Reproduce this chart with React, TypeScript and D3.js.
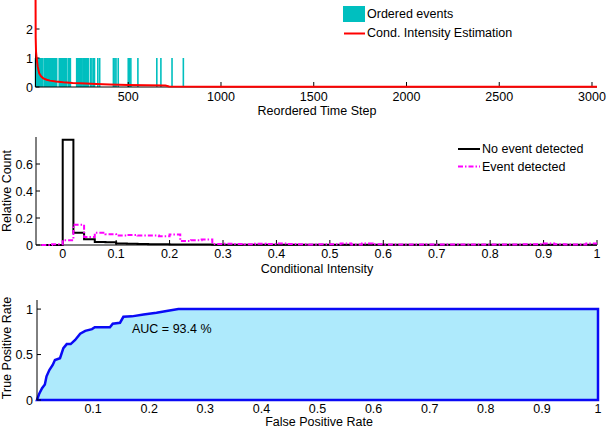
import React from "react";
import * as d3 from "d3";

// ---------- Panel 1 data ----------
const eventTimes = [
  0, 2, 4, 6, 8, 10, 12, 14, 16, 18, 20, 22, 24, 26, 28, 30, 32, 34, 36,
  46, 50, 54, 58, 62, 66, 70, 74, 78, 82, 86, 90, 94, 98, 102, 106, 110, 114,
  128, 132, 136, 140, 144, 150, 154, 158, 162, 166,
  176, 180, 184, 188,
  222, 226, 230, 234, 238, 242, 246, 250, 256, 260, 264, 268, 274, 280, 284,
  296, 304, 312, 318, 336, 346,
  420, 428, 434, 446,
  500, 506, 514,
  552, 654, 676, 736, 797,
];
const intensityT = [0, 1, 3, 6, 12, 20, 30, 42, 60, 78, 110, 150, 200, 240, 330, 400, 500, 600, 700, 720, 1000, 2000, 3027];
const intensityV = [3.6, 1.7, 1.2, 1.0, 0.7, 0.47, 0.37, 0.3, 0.25, 0.22, 0.19, 0.16, 0.14, 0.13, 0.1, 0.085, 0.07, 0.06, 0.05, 0.015, 0.012, 0.008, 0.006];
const topXTicks = [500, 1000, 1500, 2000, 2500, 3000];
const topYTicks = [0, 1, 2];

// ---------- Panel 2 data ----------
const binStarts = d3.range(52).map((i) => +(-0.04 + 0.02 * i).toFixed(2));
const noEventVals = [
  0, 0, 0.78, 0.09, 0.042, 0.022, 0.02, 0.012, 0.01, 0.008, 0.006, 0.005, 0.004, 0.004, 0.003, 0.003,
  0.002, 0.001, 0.001, 0.001, 0.001, 0.001, 0.001, 0.001, 0.001, 0.001, 0.001, 0.001, 0.001, 0.001,
  0.001, 0.001, 0.001, 0.001, 0.001, 0.001, 0.001, 0.001, 0.001, 0.001, 0.001, 0.001, 0.001, 0.001,
  0.001, 0.001, 0.001, 0.001, 0.001, 0.001, 0.001, 0.002,
];
const eventVals = [
  0, 0.005, 0.035, 0.15, 0.06, 0.09, 0.08, 0.07, 0.075, 0.07, 0.07, 0.065, 0.078, 0.03, 0.035, 0.04,
  0.008, 0.01, 0.008, 0.005, 0.01, 0.008, 0.012, 0.008, 0.006, 0.004, 0.005, 0.006, 0.012, 0.004,
  0.012, 0.005, 0.004, 0.003, 0.004, 0.003, 0.004, 0.003, 0.004, 0.003, 0.004, 0.003, 0.004, 0.003,
  0.004, 0.005, 0.006, 0.012, 0.005, 0.003, 0.004, 0.012,
];
const midXTicks = [0, 0.1, 0.2, 0.3, 0.4, 0.5, 0.6, 0.7, 0.8, 0.9, 1];
const midYTicks = [0, 0.2, 0.4, 0.6];

// ---------- Panel 3 data ----------
const rocFPR = [0, 0.004, 0.009, 0.014, 0.017, 0.022, 0.028, 0.032, 0.041, 0.047, 0.053, 0.06, 0.068, 0.077, 0.086, 0.098, 0.103, 0.13, 0.135, 0.148, 0.154, 0.169, 0.19, 0.213, 0.231, 0.252, 1];
const rocTPR = [0, 0.07, 0.13, 0.17, 0.26, 0.33, 0.385, 0.44, 0.46, 0.57, 0.615, 0.615, 0.66, 0.73, 0.76, 0.78, 0.80, 0.80, 0.84, 0.85, 0.915, 0.92, 0.94, 0.96, 0.98, 1.0, 1.0];
const botXTicks = [0.1, 0.2, 0.3, 0.4, 0.5, 0.6, 0.7, 0.8, 0.9, 1];
const botYTicks = [0, 0.5, 1];
const aucLabel = "AUC = 93.4 %";

const FONT = "'Liberation Sans', Arial, Helvetica, sans-serif";
const FS = 12.5;

function fmt(v: number) {
  return String(+v.toFixed(2));
}

export default function App() {
  // Panel 1 scales
  const x1 = d3.scaleLinear().domain([0, 3027]).range([35.5, 597]);
  const y1 = d3.scaleLinear().domain([0, 3]).range([87, 0]);
  const redLine = d3
    .line<number>()
    .x((_, i) => x1(intensityT[i]))
    .y((d) => y1(d))(intensityV) as string;

  // Panel 2 scales
  const x2 = d3.scaleLinear().domain([-0.05, 1.0]).range([36, 597]);
  const y2 = d3.scaleLinear().domain([0, 0.8]).range([245, 137]);
  const stairs = (vals: number[]) => {
    const pts: [number, number][] = [];
    vals.forEach((v, i) => {
      pts.push([x2(binStarts[i]), y2(v)]);
      pts.push([x2(binStarts[i] + 0.02), y2(v)]);
    });
    return d3.line()(pts) as string;
  };

  // Panel 3 scales
  const x3 = d3.scaleLinear().domain([0, 1]).range([37, 598]);
  const y3 = d3.scaleLinear().domain([0, 1.1]).range([400, 300]);
  const rocPts: [number, number][] = rocFPR.map((f, i) => [x3(f), y3(rocTPR[i])]);
  rocPts.push([x3(1), y3(0)]);
  const rocPath = (d3.line()(rocPts) as string) + "Z";

  const teal = "#00bfbf";

  return (
    <svg
      width={607}
      height={428}
      style={{ position: "absolute", left: 0, top: 0, background: "#fff" }}
      fontFamily={FONT}
      fontSize={FS}
    >
      <defs>
        <clipPath id="c1">
          <rect x={0} y={0} width={607} height={90} />
        </clipPath>
      </defs>

      {/* ===== Panel 1 ===== */}
      {eventTimes.map((t, i) => (
        <line key={i} x1={x1(t)} x2={x1(t)} y1={y1(0)} y2={y1(1)} stroke={teal} strokeWidth={1.6} />
      ))}
      <line x1={x1(0)} x2={x1(0)} y1={0} y2={87} stroke="#000" strokeWidth={1} />
      <line x1={x1(0)} x2={597} y1={87} y2={87} stroke="#000" strokeWidth={1} />
      {topXTicks.map((t) => (
        <g key={t}>
          <line x1={x1(t)} x2={x1(t)} y1={87} y2={82} stroke="#000" />
          <text x={x1(t)} y={101} textAnchor="middle">{t}</text>
        </g>
      ))}
      {topYTicks.map((t) => (
        <g key={t}>
          <line x1={x1(0)} x2={x1(0) + 4} y1={y1(t)} y2={y1(t)} stroke="#000" />
          <text x={33} y={y1(t) + 4.5} textAnchor="end">{t}</text>
        </g>
      ))}
      <path d={redLine} fill="none" stroke="#ff0000" strokeWidth={2} clipPath="url(#c1)" />
      <text x={317} y={115} textAnchor="middle">Reordered Time Step</text>
      {/* legend 1 */}
      <rect x={343} y={6} width={22} height={16} fill={teal} />
      <text x={367} y={18}>Ordered events</text>
      <line x1={344} x2={365} y1={33.5} y2={33.5} stroke="#ff0000" strokeWidth={2} />
      <text x={367} y={37}>Cond. Intensity Estimation</text>

      {/* ===== Panel 2 ===== */}
      <line x1={36} x2={36} y1={137} y2={245} stroke="#000" />
      <line x1={36} x2={597} y1={245} y2={245} stroke="#000" />
      {midXTicks.map((t) => (
        <g key={t}>
          <line x1={x2(t)} x2={x2(t)} y1={245} y2={240} stroke="#000" />
          <text x={x2(t)} y={258} textAnchor="middle">{fmt(t)}</text>
        </g>
      ))}
      {midYTicks.map((t) => (
        <g key={t}>
          <line x1={36} x2={40} y1={y2(t)} y2={y2(t)} stroke="#000" />
          <text x={33} y={y2(t) + 4.5} textAnchor="end">{fmt(t)}</text>
        </g>
      ))}
      <path d={stairs(noEventVals)} fill="none" stroke="#000" strokeWidth={2} />
      <path d={stairs(eventVals)} fill="none" stroke="#ff00ff" strokeWidth={2} strokeDasharray="5,2,1.5,2" />
      <text x={317} y={273} textAnchor="middle">Conditional Intensity</text>
      <text transform="translate(11,191) rotate(-90)" textAnchor="middle">Relative Count</text>
      {/* legend 2 */}
      <line x1={458} x2={480} y1={149} y2={149} stroke="#000" strokeWidth={2} />
      <text x={482} y={153}>No event detected</text>
      <line x1={458} x2={480} y1={166.5} y2={166.5} stroke="#ff00ff" strokeWidth={2} strokeDasharray="5,2,1.5,2" />
      <text x={482} y={171}>Event detected</text>

      {/* ===== Panel 3 ===== */}
      <path d={rocPath} fill="#aeeafc" stroke="#0a0af5" strokeWidth={2.5} strokeLinejoin="miter" />
      <line x1={37} x2={37} y1={300} y2={400} stroke="#000" />
      {botXTicks.map((t) => (
        <g key={t}>
          <text x={x3(t)} y={413} textAnchor="middle">{fmt(t)}</text>
        </g>
      ))}
      {botYTicks.map((t) => (
        <g key={t}>
          <line x1={37} x2={41} y1={y3(t)} y2={y3(t)} stroke="#000" />
          <text x={33} y={y3(t) + 4.5} textAnchor="end">{fmt(t)}</text>
        </g>
      ))}
      <text x={132} y={333}>{aucLabel}</text>
      <text x={319} y={425.5} textAnchor="middle">False Positive Rate</text>
      <text transform="translate(11,348) rotate(-90)" textAnchor="middle">True Positive Rate</text>
    </svg>
  );
}
